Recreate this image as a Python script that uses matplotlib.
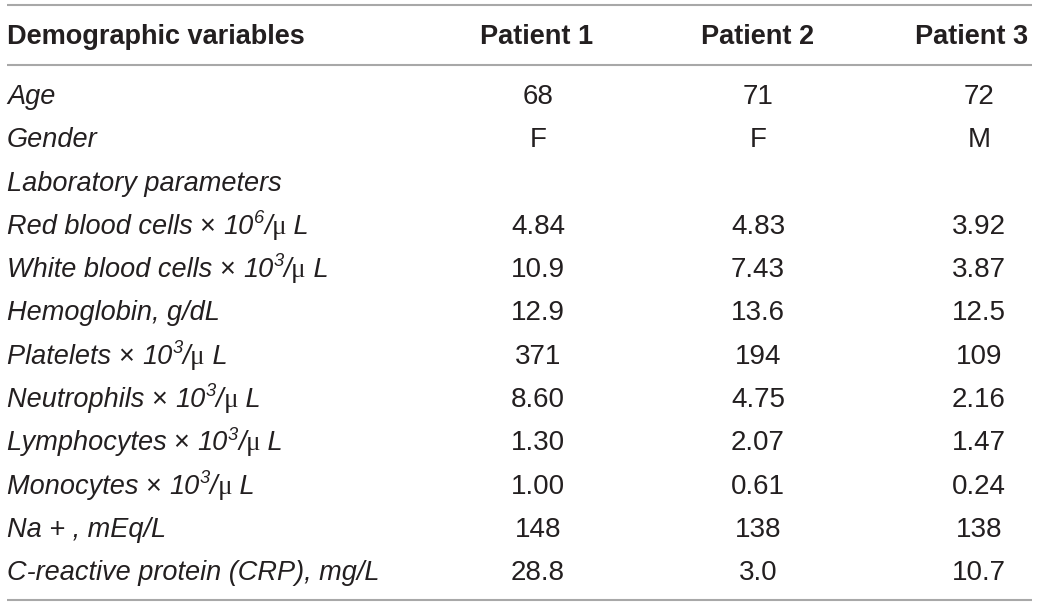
import matplotlib
matplotlib.use("Agg")
import matplotlib.pyplot as plt

# ---------------- data ----------------
col_header_label = "Demographic variables"
patients = ["Patient 1", "Patient 2", "Patient 3"]

# row labels as segments: (text, style) style: 'i' italic, 'r' upright, 'g' greek upright, 's' italic superscript
row_labels = [
    [("Age", "i")],
    [("Gender", "i")],
    [("Laboratory parameters", "i")],
    [("Red blood cells ", "i"), ("\u00d7 ", "r"), ("10", "i"), ("6", "s"), ("/", "i"), ("\u03bc", "g"), (" L", "i")],
    [("White blood cells ", "i"), ("\u00d7 ", "r"), ("10", "i"), ("3", "s"), ("/", "i"), ("\u03bc", "g"), (" L", "i")],
    [("Hemoglobin, g/dL", "i")],
    [("Platelets ", "i"), ("\u00d7 ", "r"), ("10", "i"), ("3", "s"), ("/", "i"), ("\u03bc", "g"), (" L", "i")],
    [("Neutrophils ", "i"), ("\u00d7 ", "r"), ("10", "i"), ("3", "s"), ("/", "i"), ("\u03bc", "g"), (" L", "i")],
    [("Lymphocytes ", "i"), ("\u00d7 ", "r"), ("10", "i"), ("3", "s"), ("/", "i"), ("\u03bc", "g"), (" L", "i")],
    [("Monocytes ", "i"), ("\u00d7 ", "r"), ("10", "i"), ("3", "s"), ("/", "i"), ("\u03bc", "g"), (" L", "i")],
    [("Na + , mEq/L", "i")],
    [("C-reactive protein (CRP), mg/L", "i")],
]
patient1 = ["68", "F", "", "4.84", "10.9", "12.9", "371", "8.60", "1.30", "1.00", "148", "28.8"]
patient2 = ["71", "F", "", "4.83", "7.43", "13.6", "194", "4.75", "2.07", "0.61", "138", "3.0"]
patient3 = ["72", "M", "", "3.92", "3.87", "12.5", "109", "2.16", "1.47", "0.24", "138", "10.7"]

# ---------------- layout ----------------
W, H = 1041, 607
DPI = 100
FONT = "Liberation Sans"
SERIF = "Liberation Serif"
FS = 19.5
FS_NUM = 20
FS_HEAD = 19.5
TXT = "#231f20"
LINE = "#a8a8a8"

fig = plt.figure(figsize=(W / DPI, H / DPI), dpi=DPI)
ax = fig.add_axes([0, 0, 1, 1])
ax.set_xlim(0, W)
ax.set_ylim(H, 0)
ax.axis("off")

x_left = 7
x_right = 1032
header_base = 44
row_base0 = 104
row_step = 43.3
val_centers = [538, 758, 979]
head_centers = [537, 758, 972]

for yl in (5, 65, 600):
    ax.plot([x_left, x_right], [yl, yl], color=LINE, lw=1.5, solid_capstyle="butt")

# header
ax.text(x_left, header_base, col_header_label, fontfamily=FONT, fontweight="bold",
        fontsize=FS_HEAD, color=TXT, ha="left", va="baseline")
for xc, p in zip(head_centers, patients):
    ax.text(xc, header_base, p, fontfamily=FONT, fontweight="bold",
            fontsize=FS_HEAD, color=TXT, ha="center", va="baseline")

fig.canvas.draw()
renderer = fig.canvas.get_renderer()


def text_width(s, **kw):
    t = ax.text(0, 0, "X" + s + "X", **kw)
    t2 = ax.text(0, 0, "XX", **kw)
    w = t.get_window_extent(renderer).width - t2.get_window_extent(renderer).width
    t.remove()
    t2.remove()
    return w


px_per_pt = DPI / 72.0
for i, segs in enumerate(row_labels):
    yb = row_base0 + row_step * i
    x = x_left
    for s, st in segs:
        dy = 0
        if st == "i":
            kw = dict(fontfamily=FONT, fontstyle="italic", fontsize=FS, color=TXT)
        elif st == "r":
            kw = dict(fontfamily=FONT, fontstyle="normal", fontsize=FS, color=TXT)
        elif st == "g":
            kw = dict(fontfamily=SERIF, fontstyle="normal", fontsize=FS, color=TXT)
        else:
            kw = dict(fontfamily=FONT, fontstyle="italic", fontsize=FS * 0.68, color=TXT)
            dy = -FS * px_per_pt * 0.40
        ax.text(x, yb + dy, s, ha="left", va="baseline", **kw)
        x += text_width(s, **kw)
    for xc, vals in zip(val_centers, (patient1, patient2, patient3)):
        if vals[i]:
            ax.text(xc, yb, vals[i], fontfamily=FONT, fontsize=FS_NUM, color=TXT,
                    ha="center", va="baseline")

fig.savefig("out.png", dpi=DPI, facecolor="white")
